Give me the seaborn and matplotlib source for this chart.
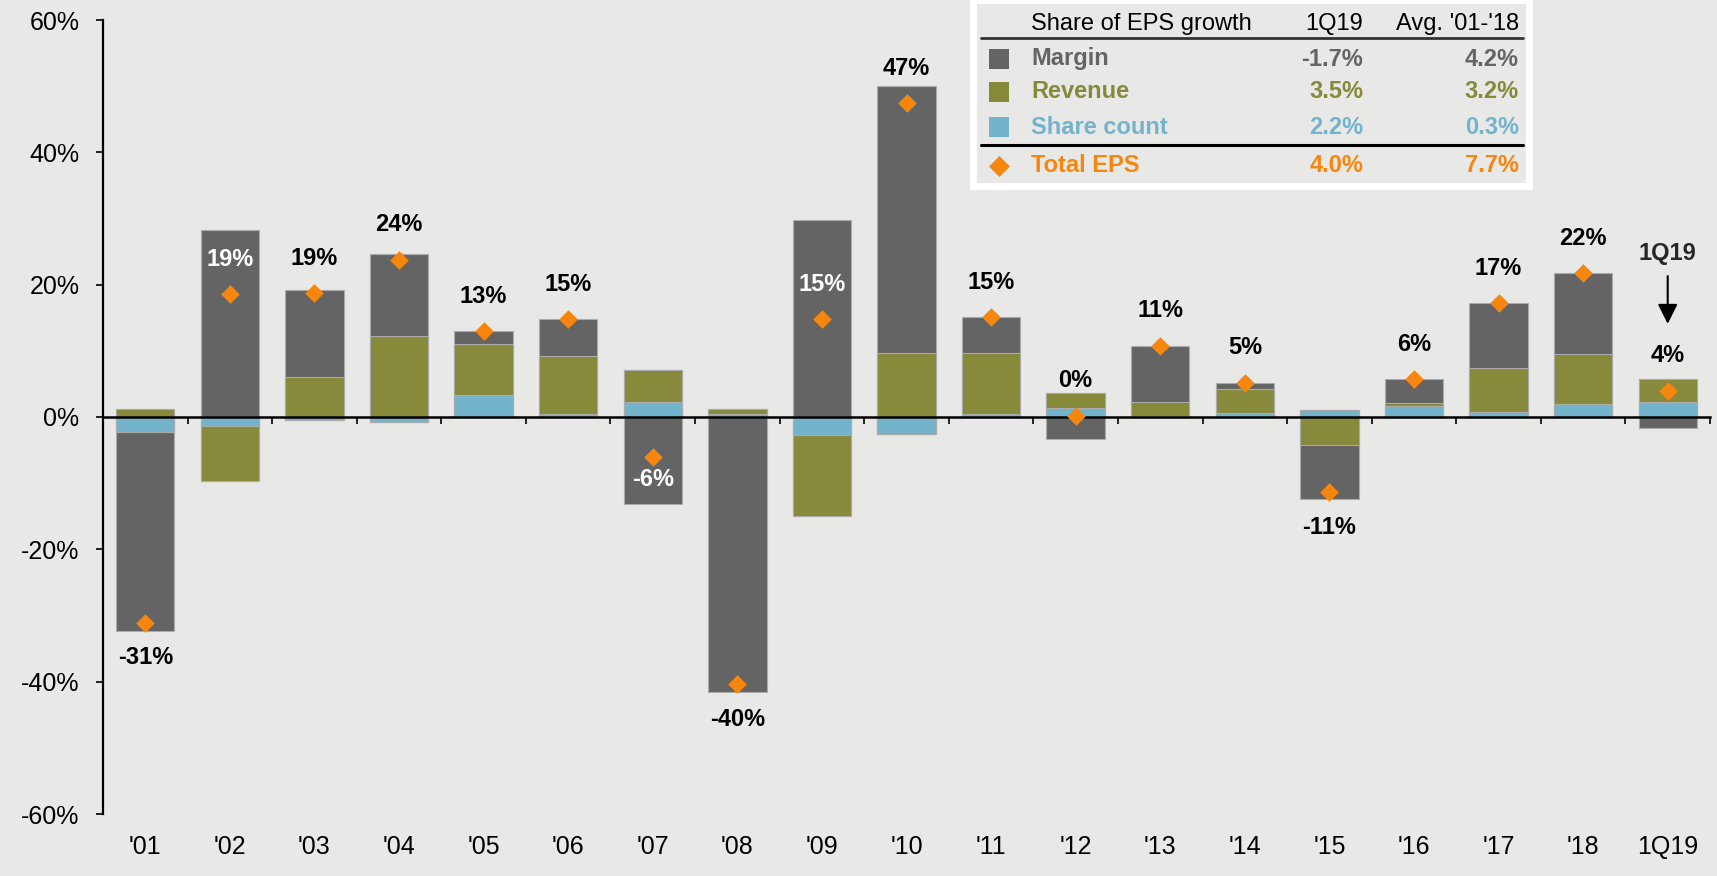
import numpy as np
import pandas as pd
import seaborn as sns
import matplotlib.pyplot as plt

# Share of EPS growth by component, in %
years = ["'01", "'02", "'03", "'04", "'05", "'06", "'07", "'08", "'09", "'10",
         "'11", "'12", "'13", "'14", "'15", "'16", "'17", "'18", "1Q19"]
margin = [-30.0, 28.3, 13.1, 12.3, 2.0, 5.6, -13.2, -41.6, 29.7, 40.4,
          5.5, -3.4, 8.6, 1.0, -8.2, 3.6, 9.8, 12.3, -1.7]
revenue = [1.2, -8.4, 6.1, 12.3, 7.6, 8.7, 4.9, 0.7, -12.2, 9.6,
           9.2, 2.3, 2.0, 3.6, -4.2, 0.4, 6.6, 7.6, 3.5]
share_count = [-2.3, -1.3, -0.5, -0.8, 3.4, 0.5, 2.2, 0.5, -2.7, -2.6,
               0.4, 1.3, 0.2, 0.6, 1.0, 1.7, 0.8, 1.9, 2.2]

# table in the top right
table_rows = ['Margin', 'Revenue', 'Share count', 'Total EPS']
table_1q19 = ['-1.7%', '3.5%', '2.2%', '4.0%']
table_avg = ['4.2%', '3.2%', '0.3%', '7.7%']

yticks = [-60, -40, -20, 0, 20, 40, 60]
white_labels = ["'02", "'07", "'09"]   # labels drawn inside the dark bar

bg = '#E8E8E6'
colors = {'margin': '#646464', 'revenue': '#87893B', 'share': '#73B3CB'}
text_colors = ['#646464', '#86893A', '#73B3CB', '#F7860F']
orange = '#F7860F'

df = pd.DataFrame({'year': years, 'margin': margin, 'revenue': revenue,
                   'share': share_count})
df['pos'] = np.arange(len(df))
df['total'] = df[['margin', 'revenue', 'share']].sum(axis=1)

sns.set_theme(style='white')
plt.rcParams['font.family'] = ['Liberation Sans', 'DejaVu Sans']

fig = plt.figure(figsize=(17.17, 8.76), dpi=100, facecolor=bg)
ax = fig.add_axes([103 / 1717, 62 / 876, 1607 / 1717, 794 / 876], facecolor=bg)

# stacking from zero outward: share count, revenue, margin (both signs)
order = ['share', 'revenue', 'margin']
pos_cum = df[order].clip(lower=0).cumsum(axis=1)
neg_cum = df[order].clip(upper=0).cumsum(axis=1)
for layer in reversed(order):
    for cum in (pos_cum, neg_cum):
        sns.barplot(x=df['pos'], y=cum[layer], native_scale=True, width=0.69,
                    color=colors[layer], saturation=1, edgecolor='#ABABAB',
                    linewidth=0.8, errorbar=None, ax=ax)

sns.scatterplot(data=df, x='pos', y='total', marker='D', s=90, color=orange,
                linewidth=0, zorder=5, legend=False, ax=ax)

for _, r in df.iterrows():
    white = r['year'] in white_labels
    if r['total'] >= 0:
        dy = 25
    else:
        dy = -16 if white else -25
    ax.annotate(f"{round(r['total']):.0f}%", (r['pos'], r['total']),
                xytext=(0, dy), textcoords='offset points', ha='center',
                va='center', fontsize=17, fontweight='bold',
                color='white' if white else 'black', zorder=6)

last = df.iloc[-1]
ax.annotate('1Q19', (last['pos'], last['total']), xytext=(0, 99),
            textcoords='offset points', ha='center', va='center',
            fontsize=17, fontweight='bold',
            arrowprops=dict(arrowstyle='-|>,head_length=0.6,head_width=0.3',
                            color='black', lw=1.5, shrinkA=6, shrinkB=48,
                            mutation_scale=20))

ax.set_xlim(-0.5, len(df) - 0.5)
ax.set_ylim(-60, 60)
ax.set_yticks(yticks, labels=[f'{v}%' for v in yticks])
ax.tick_params(axis='y', left=True, direction='out', length=5, width=1.2,
               labelsize=18, pad=12, color='black', labelcolor='black')
ax.set_xticks(df['pos'] + 0.5)
ax.tick_params(axis='x', bottom=True, direction='out', length=5, width=1.2,
               color='black', labelbottom=False)
ax.spines[['top', 'right']].set_visible(False)
ax.spines['left'].set_color('black')
ax.spines['left'].set_linewidth(1.6)
ax.spines['bottom'].set_position(('data', 0))
ax.spines['bottom'].set_color('black')
ax.spines['bottom'].set_linewidth(1.8)
ax.set_xlabel('')
ax.set_ylabel('')

sec = ax.secondary_xaxis('bottom')
sec.set_xticks(df['pos'], labels=years)
sec.tick_params(length=0, labelsize=18, pad=15, labelcolor='black')
sec.spines['bottom'].set_visible(False)

# legend table
tab = fig.add_axes([973 / 1717, 1 - 186 / 876, 556 / 1717, 186 / 876], facecolor=bg)
tab.set_xlim(0, 556)
tab.set_ylim(186, 0)
tab.set_xticks([])
tab.set_yticks([])
for s in tab.spines.values():
    s.set_color('white')
    s.set_linewidth(5)

tab.text(58, 24, 'Share of EPS growth', fontsize=17, va='center', color='black')
tab.text(390, 24, '1Q19', fontsize=17, va='center', ha='right', color='black')
tab.text(546, 24, "Avg. '01-'18", fontsize=17, va='center', ha='right', color='black')
tab.plot([8, 550], [38, 38], color='#333333', lw=2)
tab.plot([8, 550], [145, 145], color='black', lw=2.2)

row_y = [59, 92, 127, 166]
for i, name in enumerate(table_rows):
    y = row_y[i]
    c = text_colors[i]
    if i < 3:
        tab.scatter([26], [y], marker='s', s=200, color=c, linewidths=0)
    else:
        tab.scatter([26], [y], marker='D', s=115, color=c, linewidths=0)
    tab.text(58, y, name, fontsize=17, fontweight='bold', va='center', color=c)
    tab.text(390, y, table_1q19[i], fontsize=17, fontweight='bold', va='center',
             ha='right', color=c)
    tab.text(546, y, table_avg[i], fontsize=17, fontweight='bold', va='center',
             ha='right', color=c)

fig.savefig('out.png', dpi=100, facecolor=bg)
